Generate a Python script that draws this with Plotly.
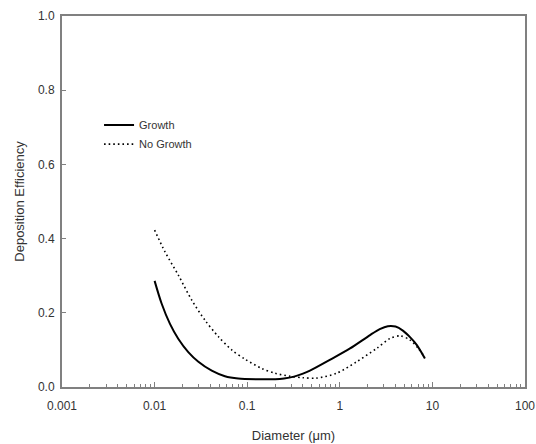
import plotly.graph_objects as go

# Data
growth_d = [0.01, 0.0119, 0.01466, 0.018, 0.0231, 0.0297, 0.0414, 0.0575, 0.080, 0.132, 0.2, 0.25, 0.32, 0.4, 0.476, 0.78, 1.29, 2.12, 2.7, 3.3, 4.0, 4.8, 5.8, 6.8, 8.3]
growth_e = [0.286, 0.225, 0.17, 0.13, 0.094, 0.068, 0.044, 0.029, 0.023, 0.021, 0.021, 0.023, 0.028, 0.036, 0.044, 0.073, 0.104, 0.14, 0.156, 0.164, 0.163, 0.152, 0.133, 0.113, 0.077]

nogrowth_d = [0.01, 0.0129, 0.018, 0.0252, 0.035, 0.0487, 0.068, 0.0946, 0.1435, 0.2, 0.29, 0.4, 0.56, 0.925, 1.52, 2.5, 3.5, 4.5, 5.7, 7.0, 8.3]
nogrowth_e = [0.423, 0.365, 0.302, 0.234, 0.18, 0.136, 0.1, 0.075, 0.05, 0.037, 0.029, 0.025, 0.024, 0.037, 0.068, 0.104, 0.131, 0.138, 0.127, 0.105, 0.08]

x_tickvals = [0.001, 0.01, 0.1, 1, 10, 100]
x_ticktext = ["0.001", "0.01", "0.1", "1", "10", "100"]
x_minorvals = [m * 10 ** e for e in range(-3, 2) for m in range(2, 10)]
y_tickvals = [0.0, 0.2, 0.4, 0.6, 0.8, 1.0]
y_ticktext = ["0.0", "0.2", "0.4", "0.6", "0.8", "1.0"]

fig = go.Figure()
fig.add_trace(go.Scatter(x=growth_d, y=growth_e, mode="lines", name="Growth",
                         line=dict(color="black", width=2, shape="spline", smoothing=0.8)))
fig.add_trace(go.Scatter(x=nogrowth_d, y=nogrowth_e, mode="lines", name="No Growth",
                         line=dict(color="black", width=1.6, dash="1.6px,3px", shape="spline", smoothing=0.8)))

axis_color = "#808080"
fig.update_layout(
    width=536, height=444,
    margin=dict(l=62, r=11, t=16, b=57),
    paper_bgcolor="white", plot_bgcolor="white",
    font=dict(family="Liberation Sans, Arial, sans-serif", size=12, color="#333333"),
    showlegend=True,
    legend=dict(x=0.08, y=0.745, xanchor="left", yanchor="top",
                bgcolor="rgba(0,0,0,0)", font=dict(size=11, color="#333333"),
                tracegroupgap=0, itemwidth=30),
    xaxis=dict(type="log", range=[-3, 2], tickvals=x_tickvals, ticktext=x_ticktext,
               ticks="inside", ticklen=5, tickcolor=axis_color, tickwidth=1,
               ticklabelstandoff=7,
               showline=True, linecolor=axis_color, linewidth=2, mirror=True,
               showgrid=False, zeroline=False, automargin=False,
               minor=dict(tickvals=x_minorvals, ticks="inside", ticklen=3,
                          tickcolor=axis_color, showgrid=False),
               title=dict(text="Diameter (μm)", font=dict(size=13), standoff=18)),
    yaxis=dict(range=[0, 1], tickvals=y_tickvals, ticktext=y_ticktext,
               ticks="inside", ticklen=4, tickcolor=axis_color, tickwidth=1,
               ticklabelstandoff=3,
               showline=True, linecolor=axis_color, linewidth=2, mirror=True,
               showgrid=False, zeroline=False, automargin=False,
               title=dict(text="Deposition Efficiency", font=dict(size=13), standoff=10)),
)

fig.write_html("out.html")
